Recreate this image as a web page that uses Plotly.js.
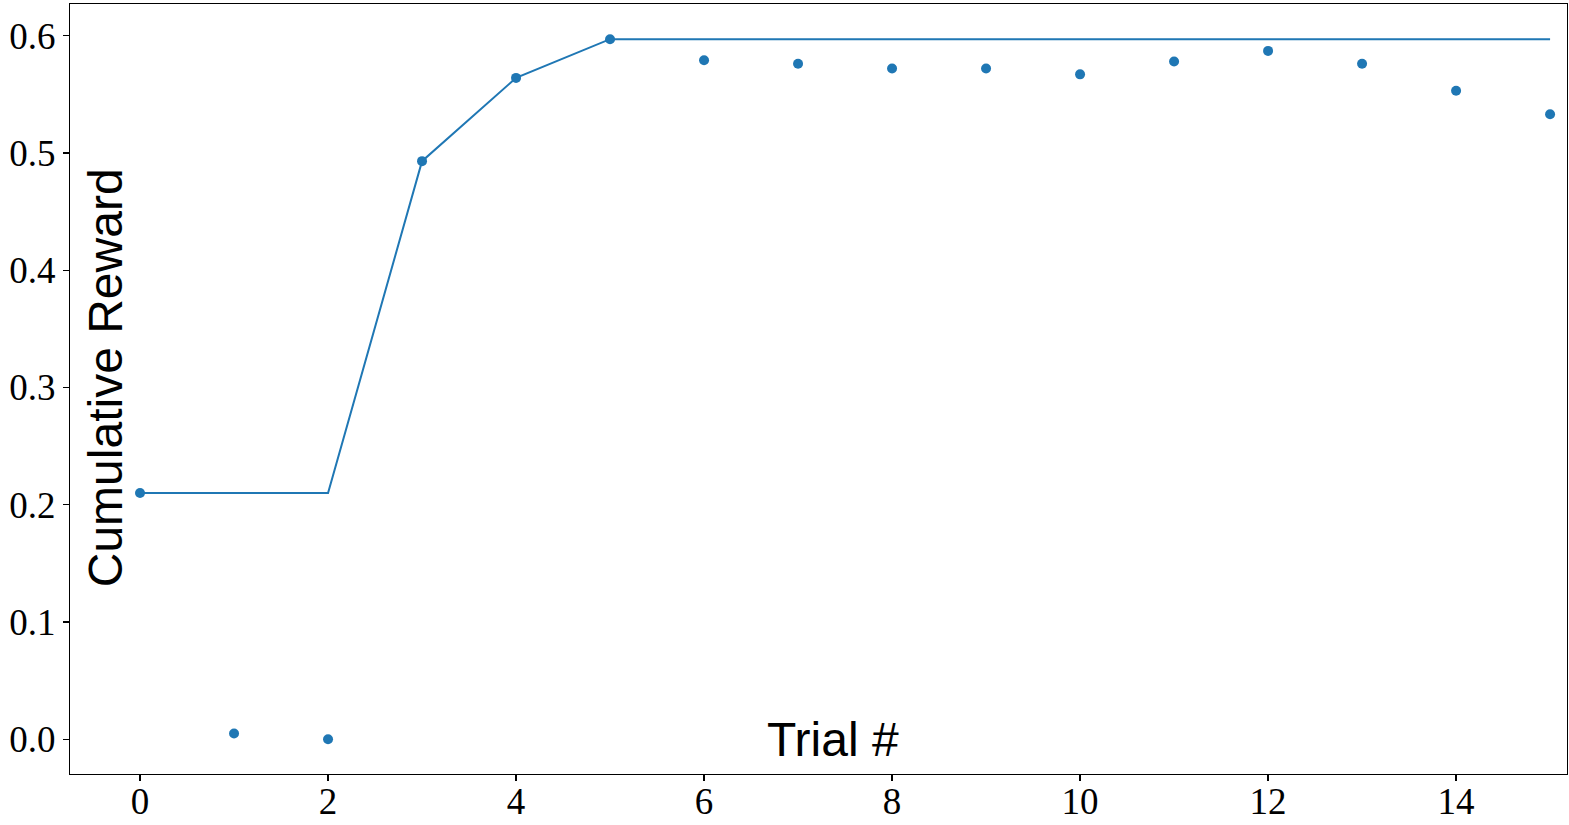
<!DOCTYPE html>
<html>
<head>
<meta charset="utf-8">
<script src="https://cdn.plot.ly/plotly-3.0.1.min.js"></script>
<style>
  html, body { margin: 0; padding: 0; background: #fff; }
  #plot { width: 1569px; height: 825px; }
</style>
</head>
<body>
<div id="plot"></div>
<script>
// trial rewards
const trials = [0, 1, 2, 3, 4, 5, 6, 7, 8, 9, 10, 11, 12, 13, 14, 15];
const rewards = [0.210, 0.005, 0.000, 0.493, 0.564, 0.597, 0.579, 0.576,
                 0.572, 0.572, 0.567, 0.578, 0.587, 0.576, 0.553, 0.533];
const bestSoFar = [0.210, 0.210, 0.210, 0.493, 0.564, 0.597, 0.597, 0.597,
                   0.597, 0.597, 0.597, 0.597, 0.597, 0.597, 0.597, 0.597];
const xTicks = [0, 2, 4, 6, 8, 10, 12, 14];
const yTicks = [0.0, 0.1, 0.2, 0.3, 0.4, 0.5, 0.6];

const blue = '#1f77b4';
const tickFont = {family: 'Liberation Serif, DejaVu Serif, serif', size: 37, color: '#000'};
const labelFont = {family: 'Liberation Sans, Arial, sans-serif', size: 48, color: '#000'};

const data = [
  {
    x: trials, y: bestSoFar, type: 'scatter', mode: 'lines',
    line: {color: blue, width: 2}, hoverinfo: 'skip'
  },
  {
    x: trials, y: rewards, type: 'scatter', mode: 'markers',
    marker: {color: blue, size: 10}
  }
];

const layout = {
  width: 1569,
  height: 825,
  margin: {l: 70, r: 2, t: 4, b: 51, pad: 0},
  paper_bgcolor: '#fff',
  plot_bgcolor: '#fff',
  showlegend: false,
  xaxis: {
    range: [-0.745, 15.18],
    tickvals: xTicks,
    ticktext: xTicks.map(String),
    ticks: 'outside', ticklen: 6, tickwidth: 1.2, tickcolor: '#000',
    ticklabelstandoff: -12,
    showgrid: false, zeroline: false,
    showline: true, linecolor: '#000', linewidth: 1.2, mirror: true,
    tickfont: tickFont
  },
  yaxis: {
    range: [-0.0296, 0.627],
    tickvals: yTicks,
    ticktext: yTicks.map(v => v.toFixed(1)),
    ticks: 'outside', ticklen: 6, tickwidth: 1.2, tickcolor: '#000',
    showgrid: false, zeroline: false,
    showline: true, linecolor: '#000', linewidth: 1.2, mirror: true,
    tickfont: tickFont
  },
  annotations: [
    {
      text: 'Cumulative Reward', xref: 'paper', yref: 'paper',
      x: 0.0234, y: 0.514, xanchor: 'center', yanchor: 'middle',
      textangle: -90, showarrow: false, font: labelFont
    },
    {
      text: 'Trial #', xref: 'paper', yref: 'paper',
      x: 0.51, y: 0.045, xanchor: 'center', yanchor: 'middle',
      showarrow: false, font: labelFont
    }
  ]
};

Plotly.newPlot('plot', data, layout, {staticPlot: true});
</script>
</body>
</html>
